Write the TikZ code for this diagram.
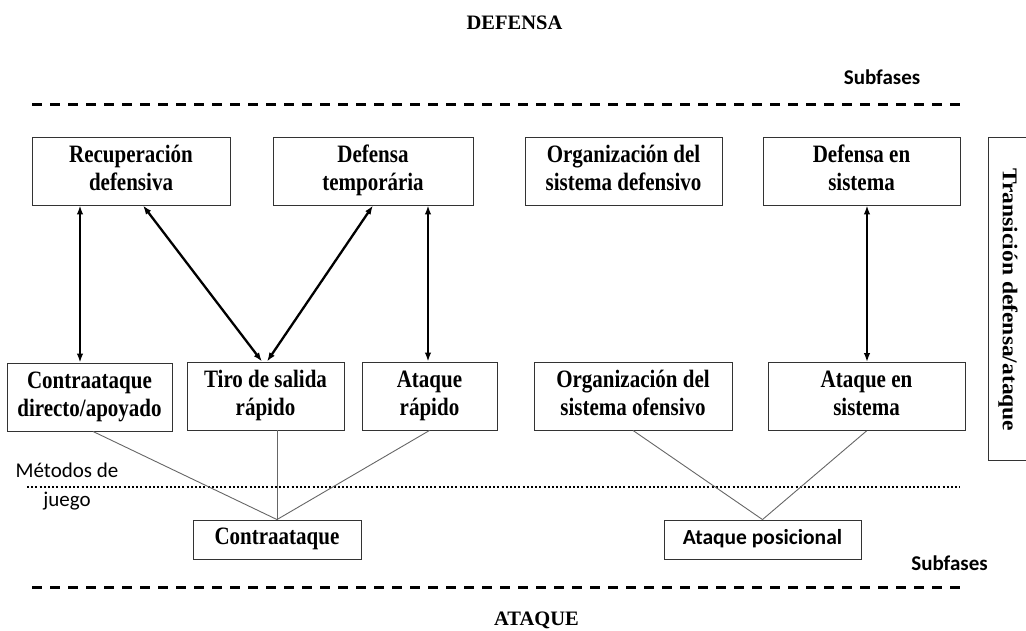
\documentclass[tikz,border=0pt]{standalone}
\usepackage{fontspec}
\setmainfont{Liberation Serif}
\newfontfamily\calfont{Carlito}
\newfontfamily\boxfont[FakeStretch=0.84]{Liberation Serif}
\newfontfamily\vfont[FakeStretch=1.12]{Liberation Serif}
\usetikzlibrary{arrows.meta,calc}
\newcommand{\bs}{\rule[-6pt]{0pt}{22pt}}
\tikzset{
  box/.style={draw=black!80, line width=0.9pt, inner sep=0pt, align=center,
    font=\boxfont\bfseries\fontsize{25}{28}\selectfont},
  dbl/.style={{Latex[length=9pt,width=6.5pt]}-{Latex[length=9pt,width=6.5pt]}, line width=2.3pt},
  thin/.style={draw=black!60, line width=0.9pt},
  phase/.style={line width=3pt, dash pattern=on 10pt off 8pt},
  sublabel/.style={font=\calfont\bfseries\fontsize{21}{25}\selectfont},
  title/.style={font=\bfseries\fontsize{20.5}{24}\selectfont}
}
\begin{document}
\begin{tikzpicture}[x=1pt,y=-1pt]
\useasboundingbox (0,0) rectangle (1026,630);
% titles
\node[title] (def) at (514.5,23) {DEFENSA};
\node[title, anchor=base] (ata) at (536.5,625) {ATAQUE};
\node[sublabel] (sub1) at (882,77) {Subfases};
\node[sublabel] (sub2) at (949.5,563) {Subfases};
\node[font=\calfont\fontsize{21}{29}\selectfont, align=center, inner sep=0pt] (met) at (67,487) {Métodos de\\juego};
% phase lines
\coordinate (tl) at (32,104); \coordinate (tr) at (965,104);
\coordinate (bl) at (32,587); \coordinate (br) at (965,587);
\coordinate (dl) at (27,487); \coordinate (dr) at (960,487);
\draw[phase] (tl) -- (tr);
\draw[phase] (bl) -- (br);
\draw[line width=2.5pt, dash pattern=on 2pt off 2.2pt] (dl) -- (dr);
% top boxes
\node[box, minimum width=198pt, minimum height=68pt] (rec) at (131,171) {\bs Recuperación\\defensiva\bs};
\node[box, minimum width=200pt, minimum height=68pt] (dtemp) at (373,171) {\bs Defensa\\temporária\bs};
\node[box, minimum width=197pt, minimum height=68pt] (orgdef) at (623.5,171) {\bs Organización del\\sistema defensivo\bs};
\node[box, minimum width=197pt, minimum height=68pt] (dsis) at (861.5,171) {\bs Defensa en\\sistema\bs};
% bottom boxes
\node[box, minimum width=165pt, minimum height=68pt] (cdir) at (89.5,397) {\bs Contraataque\\directo/apoyado\bs};
\node[box, minimum width=157pt, minimum height=68pt] (tiro) at (265.5,396) {\bs Tiro de salida\\rápido\bs};
\node[box, minimum width=135pt, minimum height=68pt] (arap) at (429.5,396) {\bs Ataque\\rápido\bs};
\node[box, minimum width=198pt, minimum height=68pt] (orgof) at (633,396) {\bs Organización del\\sistema ofensivo\bs};
\node[box, minimum width=197pt, minimum height=68pt] (asis) at (866.5,396.5) {\bs Ataque en\\sistema\bs};
% methods
\node[box, minimum width=168pt, minimum height=39pt] (contra) at (277,539.5) {\bs Contraataque};
\node[box, font=\calfont\bfseries\fontsize{21.5}{25}\selectfont, minimum width=197pt, minimum height=39pt] (apos) at (762.5,539.5) {\bs Ataque posicional};
% transition box
\node[font=\vfont\bfseries\fontsize{21}{25}\selectfont, rotate=-90, inner sep=0pt] (trans) at (1008,300) {Transición defensa/ataque};
\coordinate (tr1) at (1030,137); \coordinate (tr2) at (988,137);
\coordinate (tr3) at (988,460); \coordinate (tr4) at (1030,460);
\draw[draw=black!80, line width=0.9pt] (tr1) -- (tr2) -- (tr3) -- (tr4);
% arrows
\draw[dbl] ([xshift=-51pt]rec.south) -- ([xshift=-9.5pt]cdir.north);
\draw[dbl] ([xshift=12pt]rec.south) -- ([xshift=-3.5pt]tiro.north);
\draw[dbl] (dtemp.south) -- ([xshift=1.5pt]tiro.north);
\draw[dbl] ([xshift=55pt]dtemp.south) -- ([xshift=-1.5pt]arap.north);
\draw[dbl] ([xshift=5.5pt]dsis.south) -- ([xshift=0.5pt]asis.north);
% thin links
\draw[thin] ([xshift=3.5pt]cdir.south) -- (contra.north);
\draw[thin] (contra.north |- tiro.south) -- (contra.north);
\draw[thin] (arap.south) -- (contra.north);
\draw[thin] (orgof.south) -- (apos.north);
\draw[thin] (asis.south) -- (apos.north);
\end{tikzpicture}
\end{document}
